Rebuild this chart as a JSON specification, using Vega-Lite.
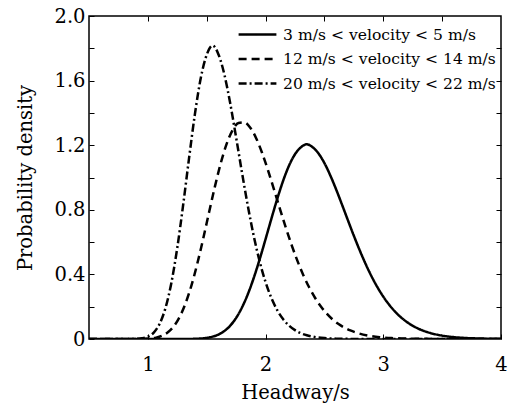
{
  "$schema": "https://vega.github.io/schema/vega-lite/v6.json",
  "autosize": "none",
  "width": 412,
  "height": 323,
  "padding": {"left": 89, "top": 16, "right": 10, "bottom": 69},
  "background": "white",
  "config": {
    "font": "DejaVu Serif",
    "view": {"stroke": "black", "strokeWidth": 1.5},
    "axis": {"grid": false, "domain": false, "tickColor": "black", "labelColor": "black", "titleColor": "black", "tickWidth": 1, "labelFont": "DejaVu Serif", "titleFont": "DejaVu Serif"},
    "legend": {"labelFont": "DejaVu Serif"}
  },
  "datasets": {
    "curves": [
      {"h": 0.5, "d": 0, "s": "3 m/s < velocity < 5 m/s"},
      {"h": 1.0, "d": 0, "s": "3 m/s < velocity < 5 m/s"},
      {"h": 1.3, "d": 0, "s": "3 m/s < velocity < 5 m/s"},
      {"h": 1.4, "d": 0.0013, "s": "3 m/s < velocity < 5 m/s"},
      {"h": 1.45, "d": 0.0031, "s": "3 m/s < velocity < 5 m/s"},
      {"h": 1.5, "d": 0.007, "s": "3 m/s < velocity < 5 m/s"},
      {"h": 1.55, "d": 0.0145, "s": "3 m/s < velocity < 5 m/s"},
      {"h": 1.6, "d": 0.0277, "s": "3 m/s < velocity < 5 m/s"},
      {"h": 1.65, "d": 0.0494, "s": "3 m/s < velocity < 5 m/s"},
      {"h": 1.7, "d": 0.0828, "s": "3 m/s < velocity < 5 m/s"},
      {"h": 1.75, "d": 0.1308, "s": "3 m/s < velocity < 5 m/s"},
      {"h": 1.8, "d": 0.1959, "s": "3 m/s < velocity < 5 m/s"},
      {"h": 1.85, "d": 0.279, "s": "3 m/s < velocity < 5 m/s"},
      {"h": 1.9, "d": 0.3793, "s": "3 m/s < velocity < 5 m/s"},
      {"h": 1.95, "d": 0.4941, "s": "3 m/s < velocity < 5 m/s"},
      {"h": 2.0, "d": 0.6186, "s": "3 m/s < velocity < 5 m/s"},
      {"h": 2.05, "d": 0.7462, "s": "3 m/s < velocity < 5 m/s"},
      {"h": 2.1, "d": 0.8696, "s": "3 m/s < velocity < 5 m/s"},
      {"h": 2.15, "d": 0.9814, "s": "3 m/s < velocity < 5 m/s"},
      {"h": 2.2, "d": 1.0747, "s": "3 m/s < velocity < 5 m/s"},
      {"h": 2.25, "d": 1.1443, "s": "3 m/s < velocity < 5 m/s"},
      {"h": 2.3, "d": 1.1868, "s": "3 m/s < velocity < 5 m/s"},
      {"h": 2.35, "d": 1.2058, "s": "3 m/s < velocity < 5 m/s"},
      {"h": 2.4, "d": 1.1873, "s": "3 m/s < velocity < 5 m/s"},
      {"h": 2.45, "d": 1.1487, "s": "3 m/s < velocity < 5 m/s"},
      {"h": 2.5, "d": 1.089, "s": "3 m/s < velocity < 5 m/s"},
      {"h": 2.55, "d": 1.0128, "s": "3 m/s < velocity < 5 m/s"},
      {"h": 2.6, "d": 0.9251, "s": "3 m/s < velocity < 5 m/s"},
      {"h": 2.65, "d": 0.8308, "s": "3 m/s < velocity < 5 m/s"},
      {"h": 2.7, "d": 0.7343, "s": "3 m/s < velocity < 5 m/s"},
      {"h": 2.75, "d": 0.6392, "s": "3 m/s < velocity < 5 m/s"},
      {"h": 2.8, "d": 0.5487, "s": "3 m/s < velocity < 5 m/s"},
      {"h": 2.85, "d": 0.4647, "s": "3 m/s < velocity < 5 m/s"},
      {"h": 2.9, "d": 0.3885, "s": "3 m/s < velocity < 5 m/s"},
      {"h": 2.95, "d": 0.321, "s": "3 m/s < velocity < 5 m/s"},
      {"h": 3.0, "d": 0.2623, "s": "3 m/s < velocity < 5 m/s"},
      {"h": 3.1, "d": 0.1696, "s": "3 m/s < velocity < 5 m/s"},
      {"h": 3.2, "d": 0.1055, "s": "3 m/s < velocity < 5 m/s"},
      {"h": 3.3, "d": 0.0634, "s": "3 m/s < velocity < 5 m/s"},
      {"h": 3.4, "d": 0.037, "s": "3 m/s < velocity < 5 m/s"},
      {"h": 3.5, "d": 0.021, "s": "3 m/s < velocity < 5 m/s"},
      {"h": 3.6, "d": 0.0116, "s": "3 m/s < velocity < 5 m/s"},
      {"h": 3.7, "d": 0.0063, "s": "3 m/s < velocity < 5 m/s"},
      {"h": 3.8, "d": 0.0033, "s": "3 m/s < velocity < 5 m/s"},
      {"h": 3.9, "d": 0.0017, "s": "3 m/s < velocity < 5 m/s"},
      {"h": 4.0, "d": 0.0008, "s": "3 m/s < velocity < 5 m/s"},

      {"h": 0.5, "d": 0, "s": "12 m/s < velocity < 14 m/s"},
      {"h": 0.92, "d": 0, "s": "12 m/s < velocity < 14 m/s"},
      {"h": 0.97, "d": 0.0011, "s": "12 m/s < velocity < 14 m/s"},
      {"h": 1.02, "d": 0.0032, "s": "12 m/s < velocity < 14 m/s"},
      {"h": 1.07, "d": 0.0085, "s": "12 m/s < velocity < 14 m/s"},
      {"h": 1.12, "d": 0.0198, "s": "12 m/s < velocity < 14 m/s"},
      {"h": 1.17, "d": 0.0415, "s": "12 m/s < velocity < 14 m/s"},
      {"h": 1.22, "d": 0.0787, "s": "12 m/s < velocity < 14 m/s"},
      {"h": 1.27, "d": 0.1369, "s": "12 m/s < velocity < 14 m/s"},
      {"h": 1.32, "d": 0.2203, "s": "12 m/s < velocity < 14 m/s"},
      {"h": 1.37, "d": 0.331, "s": "12 m/s < velocity < 14 m/s"},
      {"h": 1.42, "d": 0.4665, "s": "12 m/s < velocity < 14 m/s"},
      {"h": 1.47, "d": 0.621, "s": "12 m/s < velocity < 14 m/s"},
      {"h": 1.52, "d": 0.7845, "s": "12 m/s < velocity < 14 m/s"},
      {"h": 1.57, "d": 0.9452, "s": "12 m/s < velocity < 14 m/s"},
      {"h": 1.62, "d": 1.0906, "s": "12 m/s < velocity < 14 m/s"},
      {"h": 1.67, "d": 1.2095, "s": "12 m/s < velocity < 14 m/s"},
      {"h": 1.72, "d": 1.2934, "s": "12 m/s < velocity < 14 m/s"},
      {"h": 1.77, "d": 1.3379, "s": "12 m/s < velocity < 14 m/s"},
      {"h": 1.82, "d": 1.342, "s": "12 m/s < velocity < 14 m/s"},
      {"h": 1.87, "d": 1.3087, "s": "12 m/s < velocity < 14 m/s"},
      {"h": 1.92, "d": 1.2435, "s": "12 m/s < velocity < 14 m/s"},
      {"h": 1.97, "d": 1.1533, "s": "12 m/s < velocity < 14 m/s"},
      {"h": 2.02, "d": 1.0461, "s": "12 m/s < velocity < 14 m/s"},
      {"h": 2.07, "d": 0.9296, "s": "12 m/s < velocity < 14 m/s"},
      {"h": 2.12, "d": 0.8104, "s": "12 m/s < velocity < 14 m/s"},
      {"h": 2.17, "d": 0.694, "s": "12 m/s < velocity < 14 m/s"},
      {"h": 2.22, "d": 0.5847, "s": "12 m/s < velocity < 14 m/s"},
      {"h": 2.27, "d": 0.4851, "s": "12 m/s < velocity < 14 m/s"},
      {"h": 2.32, "d": 0.3968, "s": "12 m/s < velocity < 14 m/s"},
      {"h": 2.37, "d": 0.3202, "s": "12 m/s < velocity < 14 m/s"},
      {"h": 2.42, "d": 0.2553, "s": "12 m/s < velocity < 14 m/s"},
      {"h": 2.47, "d": 0.2012, "s": "12 m/s < velocity < 14 m/s"},
      {"h": 2.52, "d": 0.1569, "s": "12 m/s < velocity < 14 m/s"},
      {"h": 2.57, "d": 0.1211, "s": "12 m/s < velocity < 14 m/s"},
      {"h": 2.62, "d": 0.0926, "s": "12 m/s < velocity < 14 m/s"},
      {"h": 2.67, "d": 0.0702, "s": "12 m/s < velocity < 14 m/s"},
      {"h": 2.72, "d": 0.0528, "s": "12 m/s < velocity < 14 m/s"},
      {"h": 2.77, "d": 0.0394, "s": "12 m/s < velocity < 14 m/s"},
      {"h": 2.87, "d": 0.0215, "s": "12 m/s < velocity < 14 m/s"},
      {"h": 2.97, "d": 0.0114, "s": "12 m/s < velocity < 14 m/s"},
      {"h": 3.07, "d": 0.0059, "s": "12 m/s < velocity < 14 m/s"},
      {"h": 3.17, "d": 0.003, "s": "12 m/s < velocity < 14 m/s"},
      {"h": 3.37, "d": 0.0008, "s": "12 m/s < velocity < 14 m/s"},
      {"h": 3.57, "d": 0.0002, "s": "12 m/s < velocity < 14 m/s"},
      {"h": 4.0, "d": 0, "s": "12 m/s < velocity < 14 m/s"},

      {"h": 0.5, "d": 0, "s": "20 m/s < velocity < 22 m/s"},
      {"h": 0.85, "d": 0, "s": "20 m/s < velocity < 22 m/s"},
      {"h": 0.9, "d": 0.0011, "s": "20 m/s < velocity < 22 m/s"},
      {"h": 0.95, "d": 0.0044, "s": "20 m/s < velocity < 22 m/s"},
      {"h": 1.0, "d": 0.0145, "s": "20 m/s < velocity < 22 m/s"},
      {"h": 1.05, "d": 0.04, "s": "20 m/s < velocity < 22 m/s"},
      {"h": 1.1, "d": 0.0941, "s": "20 m/s < velocity < 22 m/s"},
      {"h": 1.15, "d": 0.1928, "s": "20 m/s < velocity < 22 m/s"},
      {"h": 1.2, "d": 0.3486, "s": "20 m/s < velocity < 22 m/s"},
      {"h": 1.25, "d": 0.5653, "s": "20 m/s < velocity < 22 m/s"},
      {"h": 1.3, "d": 0.8312, "s": "20 m/s < velocity < 22 m/s"},
      {"h": 1.35, "d": 1.1196, "s": "20 m/s < velocity < 22 m/s"},
      {"h": 1.4, "d": 1.394, "s": "20 m/s < velocity < 22 m/s"},
      {"h": 1.45, "d": 1.617, "s": "20 m/s < velocity < 22 m/s"},
      {"h": 1.5, "d": 1.7598, "s": "20 m/s < velocity < 22 m/s"},
      {"h": 1.55, "d": 1.8176, "s": "20 m/s < velocity < 22 m/s"},
      {"h": 1.6, "d": 1.762, "s": "20 m/s < velocity < 22 m/s"},
      {"h": 1.65, "d": 1.6377, "s": "20 m/s < velocity < 22 m/s"},
      {"h": 1.7, "d": 1.4576, "s": "20 m/s < velocity < 22 m/s"},
      {"h": 1.75, "d": 1.247, "s": "20 m/s < velocity < 22 m/s"},
      {"h": 1.8, "d": 1.0291, "s": "20 m/s < velocity < 22 m/s"},
      {"h": 1.85, "d": 0.8216, "s": "20 m/s < velocity < 22 m/s"},
      {"h": 1.9, "d": 0.6364, "s": "20 m/s < velocity < 22 m/s"},
      {"h": 1.95, "d": 0.4795, "s": "20 m/s < velocity < 22 m/s"},
      {"h": 2.0, "d": 0.3521, "s": "20 m/s < velocity < 22 m/s"},
      {"h": 2.05, "d": 0.2527, "s": "20 m/s < velocity < 22 m/s"},
      {"h": 2.1, "d": 0.1774, "s": "20 m/s < velocity < 22 m/s"},
      {"h": 2.15, "d": 0.1221, "s": "20 m/s < velocity < 22 m/s"},
      {"h": 2.2, "d": 0.0825, "s": "20 m/s < velocity < 22 m/s"},
      {"h": 2.25, "d": 0.0548, "s": "20 m/s < velocity < 22 m/s"},
      {"h": 2.3, "d": 0.0359, "s": "20 m/s < velocity < 22 m/s"},
      {"h": 2.35, "d": 0.0231, "s": "20 m/s < velocity < 22 m/s"},
      {"h": 2.4, "d": 0.0147, "s": "20 m/s < velocity < 22 m/s"},
      {"h": 2.5, "d": 0.0058, "s": "20 m/s < velocity < 22 m/s"},
      {"h": 2.6, "d": 0.0022, "s": "20 m/s < velocity < 22 m/s"},
      {"h": 2.7, "d": 0.0008, "s": "20 m/s < velocity < 22 m/s"},
      {"h": 2.8, "d": 0.0003, "s": "20 m/s < velocity < 22 m/s"},
      {"h": 3.0, "d": 0, "s": "20 m/s < velocity < 22 m/s"},
      {"h": 4.0, "d": 0, "s": "20 m/s < velocity < 22 m/s"}
    ]
  },
  "data": {"name": "curves"},
  "layer": [
    {
      "mark": {"type": "line", "interpolate": "monotone", "strokeWidth": 2.5, "color": "black", "clip": true},
      "encoding": {
        "x": {
          "field": "h", "type": "quantitative",
          "scale": {"domain": [0.5, 4], "nice": false, "zero": false},
          "axis": {
            "orient": "bottom", "title": "Headway/s", "values": [1, 2, 3, 4],
            "tickSize": -5, "labelPadding": 21, "labelFontSize": 19.5, "labelFlush": false,
            "titleFontSize": 19.5, "titleFontWeight": "normal", "titlePadding": 10
          }
        },
        "y": {
          "field": "d", "type": "quantitative",
          "scale": {"domain": [0, 2], "nice": false},
          "axis": {
            "orient": "left", "title": "Probability density",
            "values": [0, 0.2, 0.4, 0.6, 0.8, 1.0, 1.2, 1.4, 1.6, 1.8, 2.0],
            "labelExpr": "datum.value == 0 ? '0' : (round(datum.value * 10) % 4 == 0 ? format(datum.value, '.1f') : '')",
            "tickSize": -5, "labelPadding": 9, "labelFontSize": 19.5, "labelFlush": false, "labelOverlap": false,
            "titleFontSize": 19.5, "titleFontWeight": "normal", "titlePadding": 18
          }
        },
        "strokeDash": {
          "field": "s", "type": "nominal",
          "sort": ["3 m/s < velocity < 5 m/s", "12 m/s < velocity < 14 m/s", "20 m/s < velocity < 22 m/s"],
          "scale": {
            "domain": ["3 m/s < velocity < 5 m/s", "12 m/s < velocity < 14 m/s", "20 m/s < velocity < 22 m/s"],
            "range": [[1, 0], [8, 5], [8, 3, 2, 3]]
          },
          "legend": {
            "title": null, "orient": "none", "legendX": 158, "legendY": 8,
            "symbolType": "M-2.1,0H2.1", "symbolSize": 324, "symbolStrokeWidth": 2.5, "symbolStrokeColor": "black", "symbolFillColor": "transparent",
            "labelFontSize": 15.6, "labelColor": "black", "rowPadding": 4.5, "labelOffset": 15, "labelLimit": 400
          }
        }
      }
    },
    {
      "mark": {"type": "rule", "opacity": 0},
      "encoding": {
        "x": {"datum": 0.5, "type": "quantitative", "axis": {"orient": "top", "title": null, "labels": false, "values": [1, 1.5, 2, 2.5, 3, 3.5], "tickSize": -5}},
        "y": {"datum": 0, "type": "quantitative", "axis": {"orient": "right", "title": null, "labels": false, "values": [0.2, 0.4, 0.6, 0.8, 1.0, 1.2, 1.4, 1.6, 1.8], "tickSize": -5}}
      }
    }
  ],
  "resolve": {"axis": {"x": "independent", "y": "independent"}}
}
